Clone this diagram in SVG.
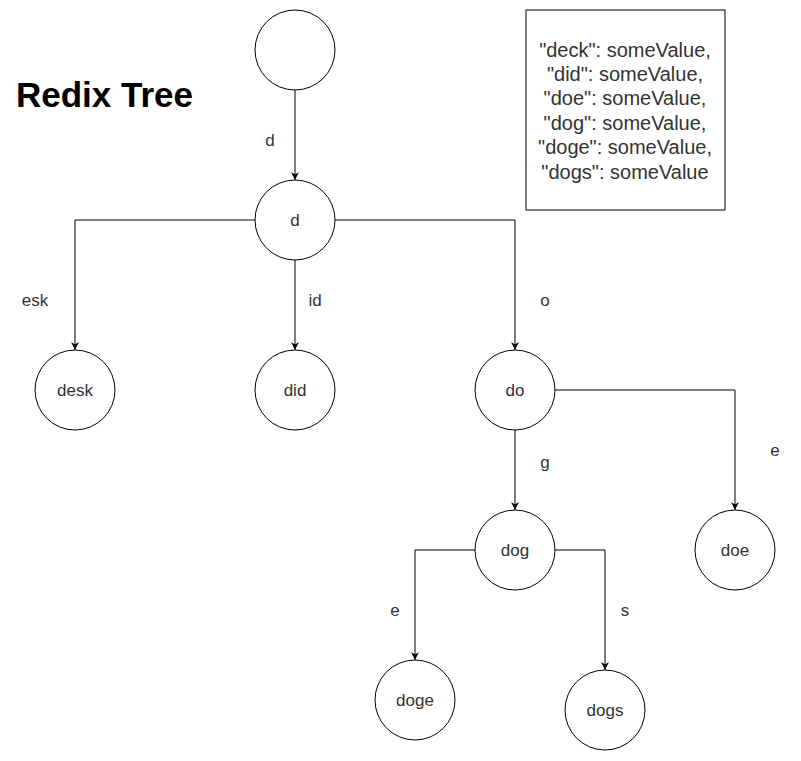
<svg xmlns="http://www.w3.org/2000/svg" width="801" height="761" viewBox="0 0 801 761">
<style>
.n{fill:#fff;stroke:#000;stroke-width:1}
.t{font-family:"Liberation Sans",Arial,sans-serif;font-size:17px;fill:#333;text-anchor:middle}
.e{fill:none;stroke:#000;stroke-width:1;marker-end:url(#a)}
.b{font-family:"Liberation Sans",Arial,sans-serif;font-size:20px;fill:#333;text-anchor:middle}
</style>
<defs>
<marker id="a" viewBox="0 0 10 10" refX="10" refY="5" markerWidth="8" markerHeight="8" markerUnits="userSpaceOnUse" orient="auto">
<path d="M0,0 L10,5 L0,10 L3,5 Z" fill="#000"/>
</marker>
</defs>
<rect width="801" height="761" fill="#fff"/>
<text x="16" y="107" style="font-family:'Liberation Sans',Arial,sans-serif;font-size:35px;font-weight:bold;fill:#000">Redix Tree</text>
<g id="legend">
<rect x="526" y="10" width="199" height="200" fill="#fff" stroke="#000"/>
<text class="b" x="625" y="57">"deck": someValue,</text>
<text class="b" x="625" y="81">"did": someValue,</text>
<text class="b" x="625" y="105">"doe": someValue,</text>
<text class="b" x="625" y="130">"dog": someValue,</text>
<text class="b" x="625" y="154">"doge": someValue,</text>
<text class="b" x="625" y="179">"dogs": someValue</text>
</g>
<g id="connectors">
<path class="e" d="M295,90 L295,180"/>
<path class="e" d="M255,220 L75,220 L75,350"/>
<path class="e" d="M295,260 L295,350"/>
<path class="e" d="M335,220 L515,220 L515,350"/>
<path class="e" d="M515,430 L515,510"/>
<path class="e" d="M555,390 L735,390 L735,510"/>
<path class="e" d="M475,550 L415,550 L415,660"/>
<path class="e" d="M555,550 L605,550 L605,670"/>
<text class="t" x="270" y="146">d</text>
<text class="t" x="35" y="306">esk</text>
<text class="t" x="315" y="306">id</text>
<text class="t" x="545" y="306">o</text>
<text class="t" x="545" y="468">g</text>
<text class="t" x="775" y="456">e</text>
<text class="t" x="395" y="616">e</text>
<text class="t" x="625" y="616">s</text>
</g>
<g id="root"><circle class="n" cx="295" cy="50" r="40"/></g>
<g id="node-d"><circle class="n" cx="295" cy="220" r="40"/><text class="t" x="295" y="226">d</text></g>
<g id="node-desk"><circle class="n" cx="75" cy="390" r="40"/><text class="t" x="75" y="396">desk</text></g>
<g id="node-did"><circle class="n" cx="295" cy="390" r="40"/><text class="t" x="295" y="396">did</text></g>
<g id="node-do"><circle class="n" cx="515" cy="390" r="40"/><text class="t" x="515" y="396">do</text></g>
<g id="node-dog"><circle class="n" cx="515" cy="550" r="40"/><text class="t" x="515" y="556">dog</text></g>
<g id="node-doe"><circle class="n" cx="735" cy="550" r="40"/><text class="t" x="735" y="556">doe</text></g>
<g id="node-doge"><circle class="n" cx="415" cy="700" r="40"/><text class="t" x="415" y="706">doge</text></g>
<g id="node-dogs"><circle class="n" cx="605" cy="710" r="40"/><text class="t" x="605" y="716">dogs</text></g>
</svg>
